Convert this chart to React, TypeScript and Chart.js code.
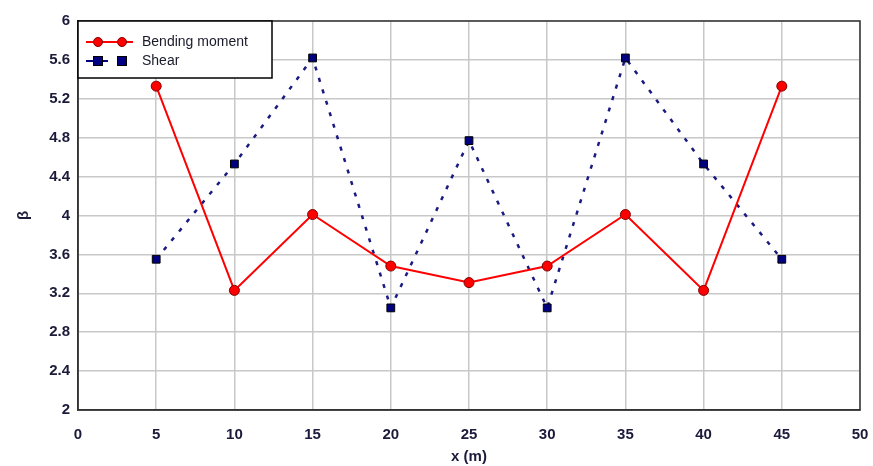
import React, { useEffect, useRef } from "react";
import { Chart, registerables } from "chart.js";

Chart.register(...registerables);

const xValues = [5, 10, 15, 20, 25, 30, 35, 40, 45];
const bendingMoment = [5.33, 3.23, 4.01, 3.48, 3.31, 3.48, 4.01, 3.23, 5.33];
const shear = [3.55, 4.53, 5.62, 3.05, 4.77, 3.05, 5.62, 4.53, 3.55];
const seriesNames = ["Bending moment", "Shear"];
const xTitle = "x (m)";
const yTitle = "β";

const TICK_FONT = "'Liberation Sans Narrow', 'Liberation Sans', Arial, sans-serif";
const TICK_COLOR = "#1a1a3a";

const frameAndLegendPlugin = {
  id: "insideLegend",
  afterDraw(chart: any) {
    const { ctx, chartArea } = chart;
    ctx.save();
    ctx.strokeStyle = "#333333";
    ctx.lineWidth = 1.5;
    ctx.strokeRect(chartArea.left, chartArea.top, chartArea.right - chartArea.left, chartArea.bottom - chartArea.top);

    const x0 = chartArea.left;
    const y0 = chartArea.top;
    ctx.fillStyle = "#ffffff";
    ctx.fillRect(x0, y0, 194, 57);
    ctx.strokeStyle = "#000000";
    ctx.lineWidth = 1.5;
    ctx.strokeRect(x0, y0, 194, 57);

    const y1 = y0 + 21;
    ctx.strokeStyle = "#ff0000";
    ctx.lineWidth = 2;
    ctx.beginPath();
    ctx.moveTo(x0 + 8, y1);
    ctx.lineTo(x0 + 55, y1);
    ctx.stroke();
    [x0 + 20, x0 + 44].forEach((cx) => {
      ctx.beginPath();
      ctx.arc(cx, y1, 4.5, 0, Math.PI * 2);
      ctx.fillStyle = "#ff0000";
      ctx.fill();
      ctx.strokeStyle = "#800000";
      ctx.lineWidth = 1;
      ctx.stroke();
    });

    const y2 = y0 + 40;
    ctx.strokeStyle = "#000080";
    ctx.lineWidth = 2;
    ctx.beginPath();
    ctx.moveTo(x0 + 8, y2);
    ctx.lineTo(x0 + 30, y2);
    ctx.stroke();
    [x0 + 20, x0 + 44].forEach((cx) => {
      ctx.fillStyle = "#000080";
      ctx.fillRect(cx - 4.5, y2 - 4.5, 9, 9);
      ctx.strokeStyle = "#000000";
      ctx.lineWidth = 1;
      ctx.strokeRect(cx - 4.5, y2 - 4.5, 9, 9);
    });

    ctx.fillStyle = "#1a1a2a";
    ctx.font = "14px 'Liberation Sans', Arial, sans-serif";
    ctx.textBaseline = "middle";
    ctx.textAlign = "left";
    ctx.fillText(seriesNames[0], x0 + 64, y1);
    ctx.fillText(seriesNames[1], x0 + 64, y2);
    ctx.restore();
  },
};

export default function App() {
  const ref = useRef<HTMLCanvasElement | null>(null);
  useEffect(() => {
    document.body.style.margin = "0";
    const canvas = ref.current!;
    const chart = new Chart(canvas, {
      type: "line",
      data: {
        datasets: [
          {
            label: seriesNames[0],
            data: xValues.map((x, i) => ({ x, y: bendingMoment[i] })),
            borderColor: "#ff0000",
            backgroundColor: "#ff0000",
            borderWidth: 2,
            pointStyle: "circle",
            pointRadius: 5,
            pointBackgroundColor: "#ff0000",
            pointBorderColor: "#800000",
            pointBorderWidth: 1,
            tension: 0,
          },
          {
            label: seriesNames[1],
            data: xValues.map((x, i) => ({ x, y: shear[i] })),
            borderColor: "#1a1a80",
            backgroundColor: "#000080",
            borderWidth: 2.5,
            borderDash: [4, 8],
            pointStyle: "rect",
            pointRadius: 5.5,
            pointBackgroundColor: "#000080",
            pointBorderColor: "#000000",
            pointBorderWidth: 1,
            tension: 0,
          },
        ],
      },
      options: {
        animation: false,
        responsive: false,
        maintainAspectRatio: false,
        layout: { padding: { left: 8, right: 0, top: 21, bottom: 0 } },
        plugins: {
          legend: { display: false },
          tooltip: { enabled: false },
        },
        scales: {
          x: {
            type: "linear",
            min: 0,
            max: 50,
            ticks: {
              stepSize: 5,
              color: TICK_COLOR,
              font: { family: TICK_FONT, size: 15, weight: "bold" },
              padding: 16,
            },
            grid: { color: "#c8c8c8", lineWidth: 1.5, drawTicks: false },
            border: { color: "#333333", width: 1.5 },
            title: {
              display: true,
              text: xTitle,
              color: TICK_COLOR,
              font: { family: TICK_FONT, size: 15, weight: "bold" },
              padding: { top: 0, bottom: 0 },
            },
            afterFit(scale: any) {
              scale.height = 56;
              scale.paddingLeft = 0;
              scale.paddingRight = 13;
            },
          },
          y: {
            type: "linear",
            min: 2,
            max: 6,
            ticks: {
              stepSize: 0.4,
              color: TICK_COLOR,
              font: { family: TICK_FONT, size: 15, weight: "bold" },
              padding: 8,
              callback: (v: any) => String(Math.round(Number(v) * 10) / 10),
            },
            grid: { color: "#c8c8c8", lineWidth: 1.5, drawTicks: false },
            border: { color: "#333333", width: 1.5 },
            title: {
              display: true,
              text: yTitle,
              color: TICK_COLOR,
              font: { family: TICK_FONT, size: 15, weight: "bold" },
              padding: { top: 7, bottom: 7 },
            },
            afterFit(scale: any) {
              scale.width = 70;
              scale.paddingTop = 0;
              scale.paddingBottom = 0;
            },
          },
        },
      },
      plugins: [frameAndLegendPlugin],
    });
    return () => chart.destroy();
  }, []);
  return <canvas ref={ref} width={873} height={466} style={{ display: "block" }} />;
}
